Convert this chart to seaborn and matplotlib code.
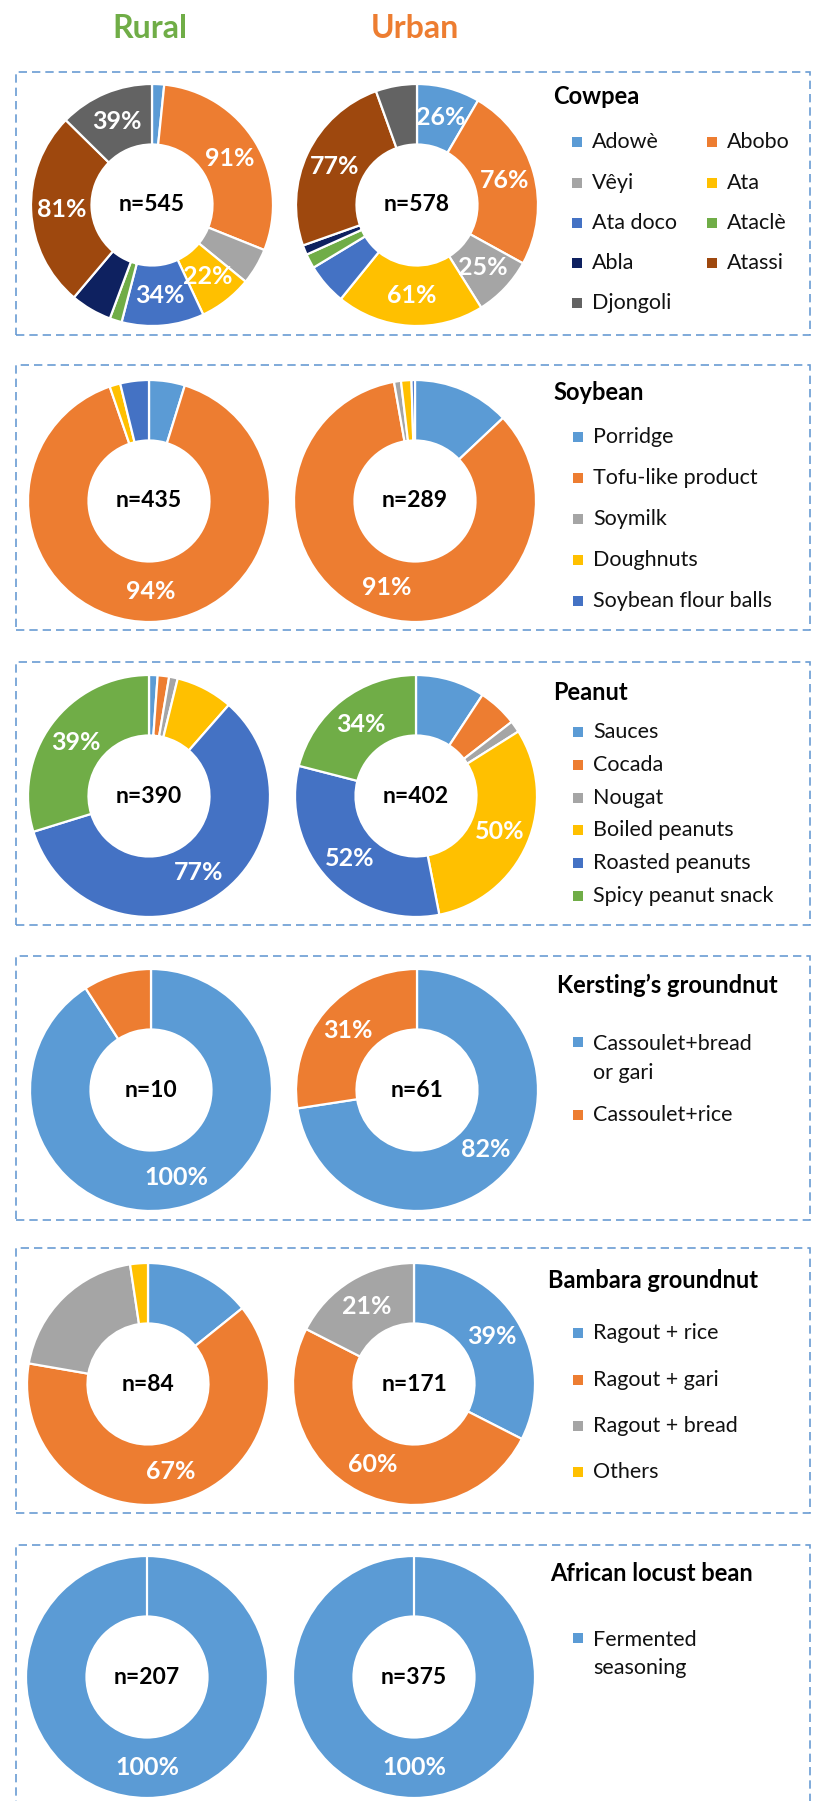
import matplotlib
matplotlib.use("Agg")
import matplotlib.pyplot as plt
from matplotlib.patches import Rectangle
import seaborn as sns
import numpy as np

# ---------------- data ----------------
cowpea_items = ["Adowè", "Abobo", "Vêyi", "Ata", "Ata doco", "Ataclè", "Abla", "Atassi", "Djongoli"]
cowpea_rural = [5, 91, 15, 22, 34, 5, 17, 81, 39]
cowpea_urban = [26, 76, 25, 61, 17, 6, 4, 77, 17]
cowpea_rural_lab = [1, 3, 4, 7, 8]
cowpea_urban_lab = [0, 1, 2, 3, 7]

soy_items = ["Porridge", "Tofu-like product", "Soymilk", "Doughnuts", "Soybean flour balls"]
soy_rural = [5, 94, 0, 1.5, 4]
soy_urban = [14, 91, 1, 1.5, 0.5]
soy_rural_lab = [1]
soy_urban_lab = [1]

peanut_items = ["Sauces", "Cocada", "Nougat", "Boiled peanuts", "Roasted peanuts", "Spicy peanut snack"]
peanut_rural = [1.5, 2, 1.5, 10, 77, 39]
peanut_urban = [15, 8.5, 2.5, 50, 52, 34]
peanut_rural_lab = [4, 5]
peanut_urban_lab = [3, 4, 5]

kersting_items = ["Cassoulet+bread\nor gari", "Cassoulet+rice"]
kersting_rural = [100, 10]
kersting_urban = [82, 31]
kersting_rural_lab = [0]
kersting_urban_lab = [0, 1]

bambara_items = ["Ragout + rice", "Ragout + gari", "Ragout + bread", "Others"]
bambara_rural = [15, 67, 21, 2.5]
bambara_urban = [39, 60, 21, 0]
bambara_rural_lab = [1]
bambara_urban_lab = [0, 1, 2]

locust_items = ["Fermented\nseasoning"]
locust_rural = [100]
locust_urban = [100]
locust_rural_lab = [0]
locust_urban_lab = [0]

crops = ["Cowpea", "Soybean", "Peanut", "Kersting\u2019s groundnut", "Bambara groundnut", "African locust bean"]
n_rural = [545, 435, 390, 10, 84, 207]
n_urban = [578, 289, 402, 61, 171, 375]

# ---------------- style ----------------
sns.set_theme(style="white")
plt.rcParams["font.family"] = ["Lato", "DejaVu Sans"]

pal = sns.color_palette(["#5B9BD5", "#ED7D31", "#A5A5A5", "#FFC000", "#4472C4",
                         "#70AD47", "#0E2160", "#9E480E", "#636363"])

W, H = 813, 1801
fig = plt.figure(figsize=(W / 100, H / 100), dpi=100)
fig.patch.set_facecolor("white")

def fx(x):
    return x / W

def fy(y):
    return 1 - y / H

R = 121
PAD = 1.03
BORDER = "#6A9CD3"

def donut(cx, cy, values, labidx, n):
    s = R * PAD
    ax = fig.add_axes([fx(cx - s), fy(cy + s), 2 * s / W, 2 * s / H])
    keep = [i for i, v in enumerate(values) if v > 0]
    vals = [values[i] for i in keep]
    cols = [pal[i] for i in keep]
    wedges, _ = ax.pie(vals, colors=cols, startangle=90, counterclock=False, radius=1,
                       wedgeprops=dict(width=0.5, edgecolor="white", linewidth=1.6))
    if len(vals) == 1:
        ax.plot([0, 0], [0.5, 1.0], color="white", lw=1.6)
    ax.set_xlim(-PAD, PAD)
    ax.set_ylim(-PAD, PAD)
    ax.set_aspect("equal")
    ax.axis("off")
    for k, i in enumerate(keep):
        if i in labidx:
            w = wedges[k]
            a = np.deg2rad((w.theta1 + w.theta2) / 2)
            ax.text(0.75 * np.cos(a), 0.75 * np.sin(a), f"{values[i]:g}%", color="white",
                    ha="center", va="center", fontsize=18, fontweight="bold")
    ax.text(0, 0, f"n={n}", ha="center", va="center", fontsize=16.5,
            fontweight="bold", color="black")

def border(top, bottom, x0=16, x1=810):
    fig.add_artist(Rectangle((fx(x0), fy(bottom)), (x1 - x0) / W, (bottom - top) / H,
                             transform=fig.transFigure, fill=False, edgecolor=BORDER,
                             linewidth=1.2, linestyle=(0, (5, 3))))

def title(x, y, txt):
    fig.text(fx(x), fy(y), txt, ha="left", va="center", fontsize=17,
             fontweight="bold", color="black")

def legend_item(mx, tx, y, txt, color, y_text=None, ls=1.2):
    fig.add_artist(Rectangle((fx(mx), fy(y + 5)), 10 / W, 10 / H,
                             transform=fig.transFigure, facecolor=color, edgecolor="none"))
    fig.text(fx(tx), fy(y if y_text is None else y_text), txt, ha="left", va="center",
             fontsize=15.5, color="#111111", linespacing=ls)

# headers
fig.text(fx(150), fy(28), "Rural", ha="center", va="center", fontsize=23,
         fontweight="bold", color="#70AD47")
fig.text(fx(415), fy(28), "Urban", ha="center", va="center", fontsize=23,
         fontweight="bold", color="#ED7D31")

# panel borders
border(72, 335)
border(365, 630)
border(662, 925)
border(956, 1220)
border(1248, 1513)
border(1545, 1830)

# donuts
donut(152, 205, cowpea_rural, cowpea_rural_lab, n_rural[0])
donut(417, 205, cowpea_urban, cowpea_urban_lab, n_urban[0])
donut(149, 501, soy_rural, soy_rural_lab, n_rural[1])
donut(415, 501, soy_urban, soy_urban_lab, n_urban[1])
donut(149, 796, peanut_rural, peanut_rural_lab, n_rural[2])
donut(416, 796, peanut_urban, peanut_urban_lab, n_urban[2])
donut(151, 1090, kersting_rural, kersting_rural_lab, n_rural[3])
donut(417, 1090, kersting_urban, kersting_urban_lab, n_urban[3])
donut(148, 1384, bambara_rural, bambara_rural_lab, n_rural[4])
donut(414, 1384, bambara_urban, bambara_urban_lab, n_urban[4])
donut(147, 1677, locust_rural, locust_rural_lab, n_rural[5])
donut(414, 1677, locust_urban, locust_urban_lab, n_urban[5])

# legends
title(553, 97, crops[0])
rows = [142, 183, 223, 263, 303]
for i, it in enumerate(cowpea_items):
    r, c = divmod(i, 2)
    mx, tx = (572, 592) if c == 0 else (707, 727)
    legend_item(mx, tx, rows[r], it, pal[i])

title(553, 393, crops[1])
for i, (it, y) in enumerate(zip(soy_items, [437, 478, 519, 560, 601])):
    legend_item(573, 593, y, it, pal[i])

title(553, 692, crops[2])
for i, (it, y) in enumerate(zip(peanut_items, [732, 765, 798, 830, 863, 896])):
    legend_item(573, 593, y, it, pal[i])

title(557, 985, crops[3])
legend_item(573, 593, 1042, kersting_items[0], pal[0], y_text=1058.5, ls=1.55)
legend_item(573, 593, 1115, kersting_items[1], pal[1])

title(548, 1280, crops[4])
for i, (it, y) in enumerate(zip(bambara_items, [1333, 1380, 1426, 1472])):
    legend_item(573, 593, y, it, pal[i])

title(550, 1573, crops[5])
legend_item(573, 593, 1638, locust_items[0], pal[0], y_text=1654, ls=1.5)

fig.savefig("out.png", dpi=100, facecolor="white")
